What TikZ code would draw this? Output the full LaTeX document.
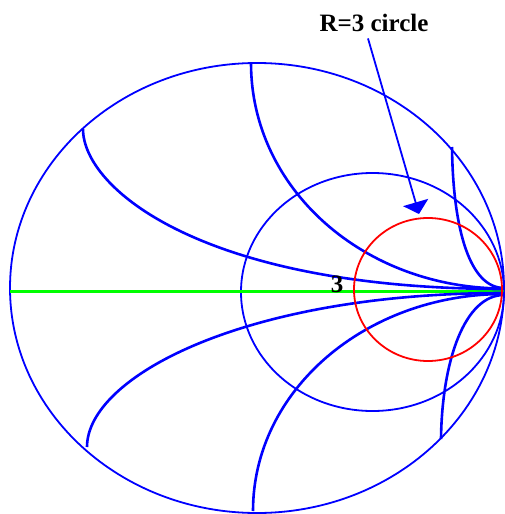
\documentclass[tikz,border=0pt]{standalone}
\usepackage{fontspec}
\setmainfont{Liberation Serif}
\usetikzlibrary{arrows.meta}
\begin{document}
\begin{tikzpicture}[
  x=1pt, y=-1pt,
  chart/.style={draw=blue,line width=1.8pt},
  xarc/.style={draw=blue,line width=2.6pt},
  rcirc/.style={draw=red,line width=1.8pt},
  axisline/.style={draw=green,line width=3pt},
  arrow/.style={-{Triangle[length=12pt,width=26pt]},draw=blue,line width=1.8pt},
  labeltext/.style={font=\fontsize{25}{28}\selectfont\bfseries,inner sep=0pt}
]
  \useasboundingbox (0,0) rectangle (504,514);

  % outer boundary and unit resistance circle
  \draw[chart] (257,288) circle[x radius=247pt,y radius=225pt];
  \draw[chart] (372.5,292) circle[x radius=131.5pt,y radius=119pt];

  % real axis
  \draw[axisline] (10,291) -- (504,291);

  % reactance arcs, upper half
  \draw[xarc] (83,129) .. controls (83,189) and (204,289) .. (504,289);
  \draw[xarc] (251,63) .. controls (251,189) and (364,288.5) .. (504,288.5);
  \draw[xarc] (452,147) .. controls (453,230) and (470,288) .. (504,288);
  % reactance arcs, lower half
  \draw[xarc] (87,447) .. controls (87,377) and (244,293) .. (504,293);
  \draw[xarc] (253,511) .. controls (253,390) and (366,294) .. (504,294);
  \draw[xarc] (441,439) .. controls (442,360) and (465,295) .. (504,295);

  % R=3 circle
  \draw[rcirc] (428,289.5) circle[x radius=74pt,y radius=71.5pt];

  \node[labeltext,anchor=base] (three) at (337,292) {3};
  \node[labeltext,anchor=base] (rlabel) at (374,31) {R=3 circle};
  \coordinate (tip) at (419,214);
  \draw[arrow] ([xshift=-6pt,yshift=-7pt]rlabel.south) -- (tip);
\end{tikzpicture}
\end{document}
